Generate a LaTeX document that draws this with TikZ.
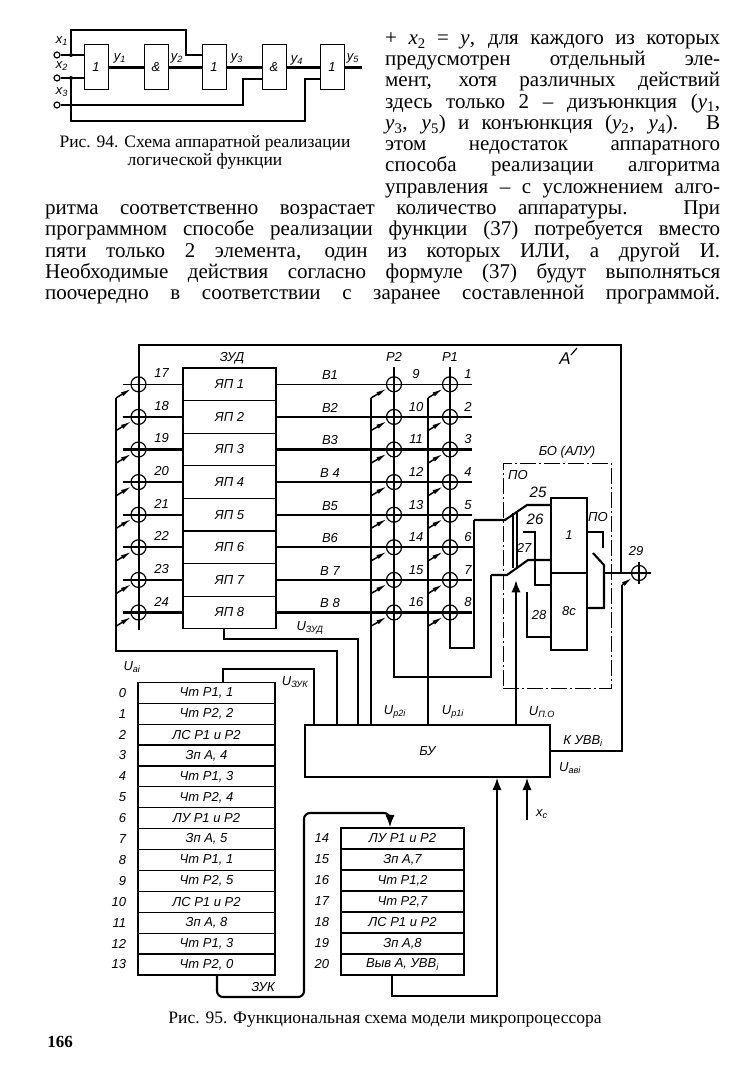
\documentclass[tikz,border=0pt]{standalone}
\usepackage{fontspec}
\setmainfont{Liberation Serif}
\setsansfont{Liberation Sans}
\usetikzlibrary{positioning,arrows.meta,calc}
\newcommand{\fsz}[1]{\fontsize{#1}{#1}\selectfont}
\newcommand{\vy}[1]{\textit{y}\textsubscript{#1}}
\begin{document}
\begin{tikzpicture}[x=1pt,y=-1pt,>=Latex,on grid,
  wire/.style={line width=2.1pt},
  thw/.style={line width=1.2pt},
  gate/.style={draw,line width=1pt,minimum width=24pt,minimum height=45pt,inner sep=0pt,font=\sffamily\itshape\fsz{13}},
  pin/.style={circle,draw,line width=1.2pt,minimum size=6pt,inner sep=0pt},
  dot/.style={circle,fill,minimum size=4pt,inner sep=0pt},
  tap/.style={circle,draw,line width=1.2pt,minimum size=15pt,inner sep=0pt},
  cellz/.style={draw,line width=1.1pt,minimum width=93pt,minimum height=32.6pt,inner sep=0pt,font=\sffamily\itshape\fsz{13}},
  rowl/.style={draw,line width=1.2pt,minimum width=137pt,minimum height=20.9pt,inner sep=0pt,font=\sffamily\itshape\fsz{13}},
  rowr/.style={draw,line width=1.2pt,minimum width=123pt,minimum height=21pt,inner sep=0pt,font=\sffamily\itshape\fsz{13}},
  lbl/.style={inner sep=0pt,font=\sffamily\itshape\fsz{13}},
  body/.style={anchor=base west,inner sep=0pt,font=\fsz{21}},
  capt/.style={inner sep=0pt,font=\fsz{17.5}},
  arw/.style={line width=1.5pt,-{Latex[length=11pt,width=4.5pt]}}]
\useasboundingbox (0,0) rectangle (747,1083);
% fig 94
\node[gate] (g1) at (96,67.5) {1};
\node[gate,right=60pt of g1] (g2) {\&};
\node[gate,right=58pt of g2] (g3) {1};
\node[gate,right=60pt of g3] (g4) {\&};
\node[gate,right=58pt of g4] (g5) {1};
\node[pin] (x1) at (57,55) {};
\node[pin] (x2) at (57,78) {};
\node[pin] (x3) at (57,105) {};
\node[dot] (j1) at (71,55) {};
\node[dot] (j2) at (71,78) {};
\coordinate (ta) at (186,30);
\coordinate (tb) at (243,79);
\coordinate (tc) at (305,79);
\coordinate (td) at (71,121);
\coordinate (y5e) at (362,67.5);
\draw[wire] (x1) -- (g1.west |- x1);
\draw[wire] (x2) -- (g1.west |- x2);
\draw[wire] (j1) |- (ta) |- (g3.west |- x1);
\draw[wire] (g1) -- (g2);
\draw[wire] (g2) -- (g3);
\draw[wire] (g3) -- (g4);
\draw[wire] (g4) -- (g5);
\draw[wire] (g5) -- (y5e);
\draw[wire] (x3) -| (tb) -- (g4.west |- tb);
\draw[wire] (j2) -- (td) -| (tc) -- (g5.west |- tc);
\node[lbl] (lx1) at (62,41) {x\textsubscript{1}};
\node[lbl] (lx2) at (62,66) {x\textsubscript{2}};
\node[lbl] (lx3) at (62,92) {x\textsubscript{3}};
\node[lbl] (ly1) at (120,58) {y\textsubscript{1}};
\node[lbl] (ly2) at (177,58) {y\textsubscript{2}};
\node[lbl] (ly3) at (237,58) {y\textsubscript{3}};
\node[lbl] (ly4) at (297,60) {y\textsubscript{4}};
\node[lbl] (ly5) at (353,58) {y\textsubscript{5}};
\node[capt] (c94a) at (205,143) {Рис. 94. Схема аппаратной реализации};
\node[capt] (c94b) at (205,161) {логической функции};
% text column
\foreach \i/\yy/\t in {1/45/{+ \textit{x}\textsubscript{2} = \textit{y}, для каждого из которых},
  2/66/{предусмотрен отдельный эле-},
  3/87/{мент, хотя различных действий},
  4/108.5/{здесь только 2 – дизъюнкция (\vy{1},},
  5/130/{\vy{3}, \vy{5}) и конъюнкция (\vy{2}, \vy{4}). В},
  6/151/{этом недостаток аппаратного},
  7/172/{способа реализации алгоритма},
  8/193.5/{управления – с усложнением алго-}}
  \node[body] (ta\i) at (385,\yy) {\makebox[335pt][s]{\t}};
\foreach \i/\yy/\t in {1/214.5/{ритма соответственно возрастает количество аппаратуры. При},
  2/236/{программном способе реализации функции (37) потребуется вместо},
  3/257/{пяти только 2 элемента, один из которых ИЛИ, а другой И.},
  4/278/{Необходимые действия согласно формуле (37) будут выполняться},
  5/299/{поочередно в соответствии с заранее составленной программой.}}
  \node[body] (tb\i) at (45,\yy) {\makebox[675pt][s]{\t}};
% registers
\foreach \i/\t/\na/\nb/\nc/\nd in {1/ЯП 1/17/В1/9/1,2/ЯП 2/18/В2/10/2,3/ЯП 3/19/В3/11/3,4/ЯП 4/20/В 4/12/4,
  5/ЯП 5/21/В5/13/5,6/ЯП 6/22/В6/14/6,7/ЯП 7/23/В 7/15/7,8/ЯП 8/24/В 8/16/8} {
  \node[cellz] (jp\i) at (229.5,{384.3+32.6*(\i-1)}) {\t};
  \node[tap,left=91pt of jp\i] (la\i) {};
  \node[tap,right=164.5pt of jp\i] (pb\i) {};
  \node[tap,right=56pt of pb\i] (pa\i) {};
  \coordinate[left=16pt of la\i] (ls\i);
  \coordinate[right=22pt of pa\i] (re\i);
  \coordinate (lc\i) at (116,{398+32.6*(\i-1)});
  \coordinate (mc\i) at (371,{398+32.6*(\i-1)});
  \coordinate (nc\i) at (428,{398+32.6*(\i-1)});
  \draw[line width={ifthenelse(\i==1,1.2,2.1)}] (ls\i) -- (jp\i.west);
  \draw[line width={ifthenelse(\i==1,1.2,2.1)}] (jp\i.east) -- (re\i);
  \draw[arw] (lc\i) -- (la\i);
  \draw[arw] (mc\i) -- (pb\i);
  \draw[arw] (nc\i) -- (pa\i);
  \node[lbl,above right=11pt and 23pt of la\i] (na\i) {\na};
  \node[lbl,above left=9pt and 64pt of pb\i] (nb\i) {\nb};
  \node[lbl,above right=10pt and 22pt of pb\i] (nc\i t) {\nc};
  \node[lbl,above right=10pt and 18pt of pa\i] (nd\i) {\nd};
}
\coordinate (busl) at (139,630);
\coordinate (bust) at (139,345);
\coordinate (busr) at (621,573);
\draw[wire] (busl) -- (bust) -| (busr);
\node[lbl] (lzud) at (232,358) {ЗУД};
\node[lbl] (lp2) at (394,357) {Р2};
\node[lbl] (lp1) at (450,357) {Р1};
\node[lbl,font=\sffamily\itshape\fsz{17}] (la) at (565,359) {А};
\coordinate (ak1) at (571,355);
\coordinate (ak2) at (577,348);
\draw[thw] (ak1) -- (ak2);
% control unit
\node[draw,line width=1.3pt,minimum width=245pt,minimum height=52pt,inner sep=0pt,font=\sffamily\itshape\fsz{13}] (by) at (427.5,751) {БУ};
\coordinate (ua) at (337,651);
\coordinate (uz) at (358,639);
\coordinate (p2t) at (394,367);
\coordinate (p1t) at (450,367);
\coordinate (p2b) at (394,677);
\coordinate (p2r) at (491,575);
\coordinate (p1b) at (450,648);
\coordinate (p1r) at (474,520);
\draw[wire] (lc1) |- (ua) -- (ua |- by.north);
\draw[wire] (jp8.south -| 224,0) |- (uz) -- (uz |- by.north);
\draw[wire] (mc1) -- (mc1 |- by.north);
\draw[wire] (nc1) -- (nc1 |- by.north);
% P2, P1
\draw[wire] (p2t) -- (p2b) -| (p2r);
\draw[wire] (p1t) -- (p1b) -| (p1r);
\draw[wire] (re6) -- (p1r |- re6);
% ALU
\node[draw,line width=1pt,dash pattern=on 16pt off 3pt on 2pt off 3pt,minimum width=108pt,minimum height=225pt,inner sep=0pt] (bo) at (557,575.5) {};
\node[draw,line width=1.2pt,minimum width=36pt,minimum height=75pt,inner sep=0pt,font=\sffamily\itshape\fsz{13}] (alu1) at (569,535.5) {1};
\node[draw,line width=1.2pt,minimum width=36pt,minimum height=77pt,inner sep=0pt,font=\sffamily\itshape\fsz{13}] (alu2) at (569,611.5) {8с};
\coordinate (a25) at (505,520);
\coordinate (b25) at (527,505);
\draw[wire] (p1r) -- (a25) -- (b25) -- (alu1.west |- b25);
\coordinate (a27) at (507,575);
\coordinate (b27) at (528,560);
\draw[wire] (p2r) -- (a27) -- (b27) -- (alu1.west |- b27);
\coordinate (a26) at (523,532);
\coordinate (b26) at (535,585);
\draw[wire] (a26) -| (b26) -- (alu2.west |- b26);
\coordinate (a28) at (527,592);
\coordinate (b28) at (527,637);
\draw[wire] (a28) -- (b28) -- (alu2.west |- b28);
\coordinate (ba) at (513,513);
\coordinate (bb) at (513,568);
\coordinate (bc) at (517,513);
\coordinate (bd) at (517,568);
\draw[thw] (ba) -- (bb);
\draw[thw] (bc) -- (bd);
\coordinate (s1) at (603,532);
\coordinate (s2) at (603,548);
\coordinate (s3) at (593,553);
\coordinate (s4) at (604,565);
\coordinate (s6) at (604,608);
\coordinate (so) at (604,573);
\coordinate (oe) at (651,573);
\draw[wire] (alu1.east |- s1) -- (s1) -- (s2);
\draw[wire] (s3) -- (s4) -- (s6) -- (alu2.east |- s6);
\node[tap] (t29) at (639,573) {};
\coordinate (t29a) at (639,562);
\coordinate (t29b) at (639,584);
\draw[wire] (so) -- (oe);
\draw[thw] (t29a) -- (t29b);
\coordinate (fb) at (622,585);
\coordinate (fk) at (622,751);
\draw[wire] (by.east |- fk) -- (fk) -- (fb);
\draw[arw] (fb) -- (t29);
\coordinate (uo) at (516,580);
\draw[wire,->] (uo |- by.north) -- (uo);
\node[lbl] (lbo) at (567,452) {БО (АЛУ)};
\node[lbl] (lpo) at (518,475) {ПО};
\node[lbl,font=\sffamily\itshape\fsz{15}] (l25) at (538,492) {25};
\node[lbl,font=\sffamily\itshape\fsz{15}] (l26) at (535,519) {26};
\node[lbl] (l27) at (524,548) {27};
\node[lbl] (l28) at (539,615) {28};
\node[lbl] (lpo2) at (598,517) {ПО};
\node[lbl] (l29) at (636,551) {29};
% ROM
\foreach \i/\t in {0/{Чт Р1, 1},1/{Чт Р2, 2},2/{ЛС Р1 и Р2},3/{Зп А, 4},4/{Чт Р1, 3},5/{Чт Р2, 4},6/{ЛУ Р1 и Р2},
  7/{Зп А, 5},8/{Чт Р1, 1},9/{Чт Р2, 5},10/{ЛС Р1 и Р2},11/{Зп А, 8},12/{Чт Р1, 3},13/{Чт Р2, 0}} {
  \node[rowl] (lp\i) at (206.5,{692.8+20.9*\i}) {\t};
  \node[lbl,left=11pt of lp\i.west] (ln\i) {\i};
}
\foreach \i/\t in {14/{ЛУ Р1 и Р2},15/{Зп А,7},16/{Чт Р1,2},17/{Чт Р2,7},18/{ЛС Р1 и Р2},19/{Зп А,8},20/{Выв А, УВВ\textsubscript{i}}} {
  \node[rowr] (rp\i) at (402.5,{838.5+21*(\i-14)}) {\t};
  \node[lbl,left=11pt of rp\i.west] (rn\i) {\i};
}
\coordinate (uk) at (223,669);
\coordinate (ur) at (314,669);
\draw[wire] (lp0.north -| uk) -- (uk) -- (ur) -- (ur |- by.north);
\coordinate (z1) at (217,997);
\coordinate (z2) at (304,813);
\coordinate (z3) at (390,813);
\draw[wire,rounded corners=6pt,->] (lp13.south -| z1) -- (z1) -| (z2) -- (z3) -- (rp14.north -| z3);
\coordinate (w1) at (392,996);
\coordinate (w2) at (497,996);
\draw[wire,->] (rp20.south -| w1) -- (w1) -- (w2) -- (w2 |- by.south);
\coordinate (xc) at (527,820);
\draw[wire,->] (xc) -- (xc |- by.south);
\node[lbl] (luai) at (132,667) {U\textsubscript{ai}};
\node[lbl] (luzud) at (310,628) {U\textsubscript{ЗУД}};
\node[lbl] (luzuk) at (295,682) {U\textsubscript{ЗУК}};
\node[lbl] (lzuk) at (263,987) {ЗУК};
\node[lbl] (lup2) at (395,712) {U\textsubscript{p2i}};
\node[lbl] (lup1) at (453,712) {U\textsubscript{p1i}};
\node[lbl] (lupo) at (542,712) {U\textsubscript{П.О}};
\node[lbl] (lkuv) at (583,741) {К УВВ\textsubscript{i}};
\node[lbl] (luav) at (570,768) {U\textsubscript{авi}};
\node[lbl] (lxc) at (542,814) {x\textsubscript{c}};
% caption
\node[capt] (c95) at (385,1020) {Рис. 95. Функциональная схема модели микропроцессора};
\node[inner sep=0pt,font=\bfseries\fsz{17}] (pg) at (60,1042) {166};
\end{tikzpicture}
\end{document}
